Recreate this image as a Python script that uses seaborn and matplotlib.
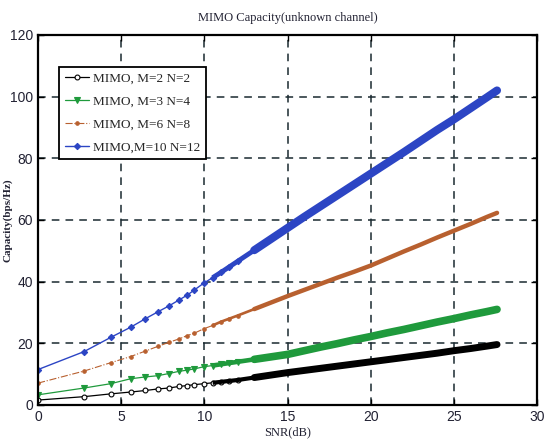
import numpy as np
import pandas as pd
import seaborn as sns
import matplotlib.pyplot as plt

# values
SNR_DB = [0, 2.76, 4.36, 5.56, 6.46, 7.2, 7.86, 8.46, 8.96, 9.4, 9.96, 10.5, 11,
          11.5, 12, 13, 14, 15, 16, 17, 18, 19, 20, 21, 22, 23, 24, 25, 26, 27, 27.6]

CAP_M2_N2 = [1.6, 2.7, 3.6, 4.2, 4.7, 5.2, 5.5, 6.0, 6.3, 6.6, 6.9, 7.2, 7.5,
             7.8, 8.1, 8.9, 9.7, 10.5, 11.2, 11.9, 12.6, 13.3, 14.0, 14.7, 15.4,
             16.1, 16.8, 17.6, 18.3, 19.1, 19.6]
CAP_M3_N4 = [3.3, 5.5, 6.9, 8.5, 9.1, 9.5, 10.2, 10.9, 11.3, 11.7, 12.4, 12.8, 13.2,
             13.6, 14.0, 14.8, 15.6, 16.4, 17.6, 18.8, 19.9, 21.1, 22.2, 23.4, 24.5,
             25.7, 26.9, 28.0, 29.2, 30.3, 31.0]
CAP_M6_N8 = [7.1, 11.0, 13.7, 15.7, 17.5, 19.0, 20.3, 21.4, 22.5, 23.3, 24.7, 25.8, 27.0,
             28.0, 29.0, 31.1, 33.2, 35.3, 37.3, 39.3, 41.3, 43.2, 45.2, 47.5, 49.8,
             52.0, 54.3, 56.5, 58.7, 61.0, 62.3]
CAP_M10_N12 = [11.5, 17.3, 21.9, 25.2, 28.0, 30.2, 32.1, 34.0, 35.6, 37.3, 39.5, 41.3, 43.0,
               44.8, 46.6, 50.2, 53.8, 57.4, 61.0, 64.5, 68.0, 71.5, 75.0, 78.5, 82.0,
               85.6, 89.2, 92.6, 96.2, 99.8, 102.0]

LABELS = ["MIMO, M=2 N=2", "MIMO, M=3 N=4", "MIMO, M=6 N=8", "MIMO,M=10 N=12"]

# (color, marker, marker size, linestyle, thin width, band width)
STYLES = [
    ("black", "o", 3.5, "-", 0.9, 5.0),
    ("#1f9a3c", "v", 4.5, "-", 0.9, 5.5),
    ("#b8602f", ".", 5.0, "-.", 0.8, 3.2),
    ("#2c45c4", "D", 3.2, "-", 1.0, 5.8),
]

sns.set_style("ticks")
plt.rcParams["font.family"] = ["Liberation Sans", "DejaVu Sans"]

fig = plt.figure(figsize=(5.44, 4.48), dpi=100)
ax = fig.add_axes([0.070, 0.096, 0.917, 0.826])

snr = np.array(SNR_DB)
crowded = (snr >= 10.5) & (snr <= 13)
dense = snr >= 13
series = [CAP_M2_N2, CAP_M3_N4, CAP_M6_N8, CAP_M10_N12]

for values, label, (color, marker, ms, ls, lw, band) in zip(series, LABELS, STYLES):
    df = pd.DataFrame({"snr": SNR_DB, "cap": values})
    vals = np.array(values)
    mfc = "white" if marker == "o" else color
    sns.lineplot(data=df, x="snr", y="cap", ax=ax, color=color, label=label,
                 linestyle=ls, linewidth=lw, marker=marker, markersize=ms,
                 markerfacecolor=mfc, markeredgecolor=color, markeredgewidth=0.8,
                 markevery=list(np.where(snr <= 12)[0]))
    # markers crowd together and then merge into a solid band at high SNR
    ax.plot(snr[crowded], vals[crowded], color=color, linewidth=band * 0.6,
            solid_capstyle="butt")
    ax.plot(snr[dense], vals[dense], color=color, linewidth=band,
            solid_capstyle="round")

ax.set_xlim(0, 30)
ax.set_ylim(0, 120)
ax.set_xticks(range(0, 31, 5))
ax.set_yticks(range(0, 121, 20))
ax.grid(True, color="#1a2a30", linestyle=(0, (5, 4)), linewidth=1.1)
ax.tick_params(direction="in", top=True, right=True, length=4, width=1,
               labelsize=10, colors="black")
for tl in ax.get_xticklabels() + ax.get_yticklabels():
    tl.set_color("#223")
for spine in ax.spines.values():
    spine.set_visible(True)
    spine.set_linewidth(1.6)
    spine.set_color("black")

serif = ["Liberation Serif", "DejaVu Serif"]
ax.set_title("MIMO Capacity(unknown channel)", family=serif, fontsize=9, pad=10,
             color="#223")
ax.set_xlabel("SNR(dB)", family=serif, fontsize=9, color="#223")
ax.xaxis.set_label_coords(0.5, -0.058)
ax.set_ylabel("Capacity(bps/Hz)", family=serif, fontsize=8,
              color="#223", fontweight="bold")
ax.yaxis.set_label_coords(-0.052, 0.5)

leg = ax.legend(loc="upper left", bbox_to_anchor=(0.042, 0.914), borderaxespad=0,
                frameon=True, fancybox=False, edgecolor="black",
                prop={"family": serif, "size": 9.5}, handlelength=1.8,
                handletextpad=0.3, labelspacing=0.8, borderpad=0.45)
leg.get_frame().set_linewidth(1.3)
leg.get_frame().set_alpha(1)

fig.savefig("out.png", dpi=100)
